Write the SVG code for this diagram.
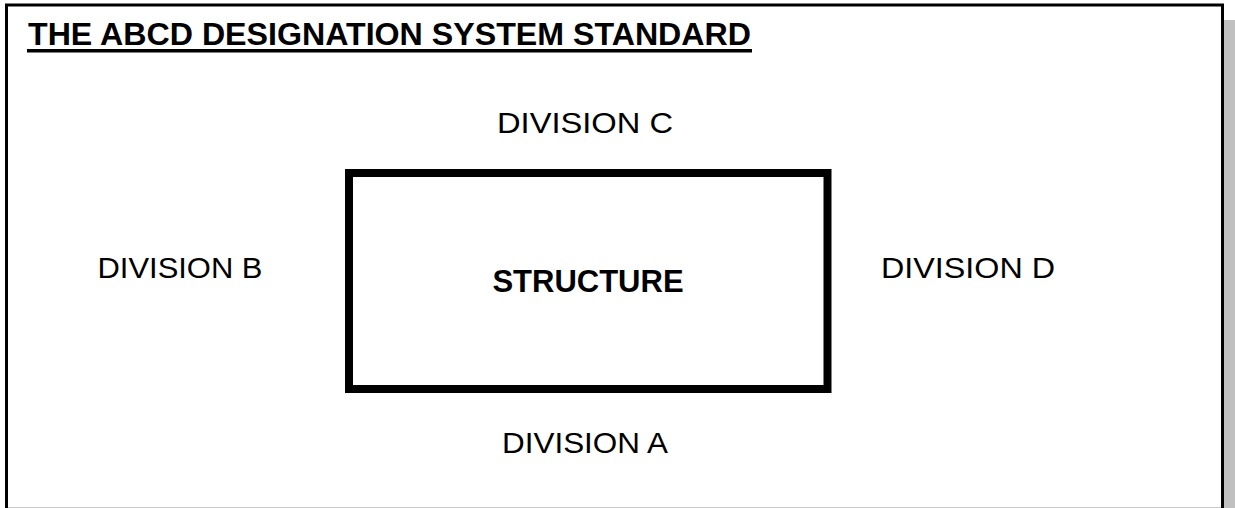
<svg xmlns="http://www.w3.org/2000/svg" width="1235" height="508" viewBox="0 0 1235 508">
  <style>
    .t { font-family: "Liberation Sans", Arial, sans-serif; fill: #000; }
    .lbl { font-size: 30px; text-anchor: middle; }
    .bold { font-weight: bold; }
  </style>
  <rect x="0" y="0" width="1235" height="508" fill="#fff"/>
  <g id="frame">
    <rect x="1224" y="20" width="11" height="488" fill="#c0c0c0"/>
    <line x1="8" y1="507.5" x2="1221" y2="507.5" stroke="#c8c8c8" stroke-width="1"/>
    <rect x="6.5" y="5" width="1216" height="530" fill="none" stroke="#000" stroke-width="3"/>
  </g>
  <g id="title">
    <text class="t bold" x="28" y="45" font-size="32" textLength="723" lengthAdjust="spacingAndGlyphs">THE ABCD DESIGNATION SYSTEM STANDARD</text>
    <line x1="27" y1="50.8" x2="752" y2="50.8" stroke="#000" stroke-width="3.5"/>
  </g>
  <g id="structure">
    <rect x="349" y="173" width="478.5" height="216" fill="none" stroke="#000" stroke-width="8"/>
    <text class="t bold" x="588" y="292" font-size="31" text-anchor="middle">STRUCTURE</text>
  </g>
  <g id="division-c">
    <text class="t lbl" x="585" y="133" textLength="176" lengthAdjust="spacingAndGlyphs">DIVISION C</text>
  </g>
  <g id="division-b">
    <text class="t lbl" x="180" y="278" textLength="165" lengthAdjust="spacingAndGlyphs">DIVISION B</text>
  </g>
  <g id="division-d">
    <text class="t lbl" x="968" y="278" textLength="174" lengthAdjust="spacingAndGlyphs">DIVISION D</text>
  </g>
  <g id="division-a">
    <text class="t lbl" x="585" y="452.5" textLength="166" lengthAdjust="spacingAndGlyphs">DIVISION A</text>
  </g>
  <g id="connectors"></g>
</svg>
